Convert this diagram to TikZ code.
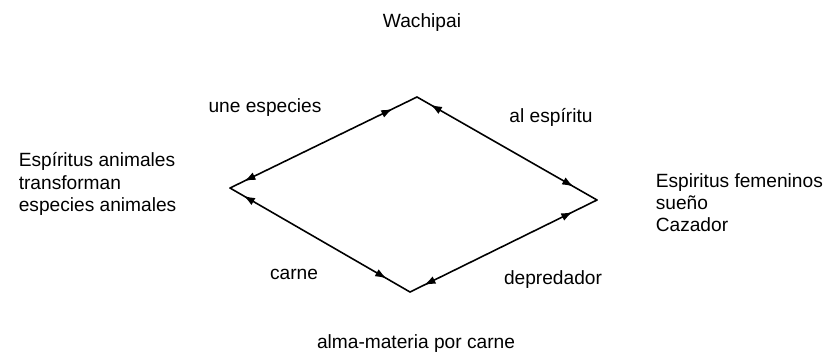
\documentclass[tikz,border=0pt]{standalone}
\usepackage{fontspec}
\setmainfont{Liberation Sans}
\usetikzlibrary{arrows.meta,decorations.markings}
\tikzset{
	dosflechas/.style={postaction={decorate},
		decoration={markings,
			mark=at position 0.13 with {\arrow{<}},
			mark=at position 0.87 with {\arrow{>}}}},
	bloque/.style={align=left,anchor=west,inner sep=0pt}
}
\begin{document}
\begin{tikzpicture}[>={Latex[length=6.5pt,width=4.6pt]},line join=round,line cap=round,line width=.9pt
				,x=0.02cm,y=-0.02cm,font=\fontsize{10.9}{12.6}\selectfont
				]
				\useasboundingbox (0,0) rectangle (828,356);
				%	\draw[thin,gray!50,step=50] (0,0) grid (828,356);
				
				\coordinate (I) at (230,188);
				\coordinate (A) at (417,97);
				\coordinate (D) at (597,200);
				\coordinate (B) at (410,292);
				\draw[dosflechas] (I)--(A);
				\draw[dosflechas] (A)--(D);
				\draw[dosflechas] (I)--(B);
				\draw[dosflechas] (B)--(D);
				
				\node (wachipai) at (422,23) {Wachipai};
				\node (une) at (265,108) {une especies};
				\node (espiritu) at (551,117) {al espíritu};
				\node (carne) at (294,274) {carne};
				\node (depredador) at (553,280) {depredador};
				\node (alma) at (416,344) {alma-materia por carne};
				\node[bloque] (animales) at (18,184) {Espíritus animales\\transforman\\especies animales};
				\node[bloque] (femeninos) at (655,203) {Espiritus femeninos\\sueño\\Cazador};
			\end{tikzpicture}
\end{document}
